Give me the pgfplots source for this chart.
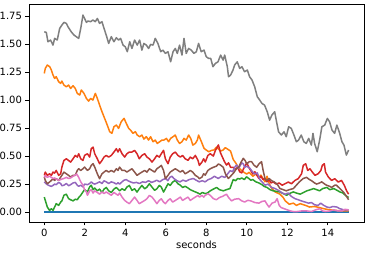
\documentclass[border=0pt]{standalone}
\usepackage{fontspec}
\setmainfont{DejaVu Sans}
\usepackage{pgfplots}
\pgfplotsset{compat=1.18}
\definecolor{c0}{HTML}{1F77B4}
\definecolor{c1}{HTML}{FF7F0E}
\definecolor{c2}{HTML}{2CA02C}
\definecolor{c3}{HTML}{D62728}
\definecolor{c4}{HTML}{9467BD}
\definecolor{c5}{HTML}{8C564B}
\definecolor{c6}{HTML}{E377C2}
\definecolor{c7}{HTML}{7F7F7F}
\begin{document}
\begin{tikzpicture}
\path[use as bounding box] (-29pt,-34pt) rectangle (339pt,222pt);
\begin{axis}[
  at={(0,0)}, anchor=south west,
  scale only axis, width=335pt, height=218pt,
  xmin=-0.755, xmax=15.79, ymin=-0.0885, ymax=1.858,
  xtick={0,2,...,14}, ytick={0,0.25,0.5,0.75,1,1.25,1.5,1.75},
  yticklabel style={/pgf/number format/.cd, fixed, fixed zerofill, precision=2},
  /pgf/number format/assume math mode=true,
  tick align=outside, tick pos=left, major tick length=3.5pt,
  every tick/.style={black, line width=0.8pt},
  axis line style={line width=0.8pt},
  tick label style={font=\fontsize{10}{12}\selectfont},
  label style={font=\fontsize{10}{12}\selectfont},
  xlabel={seconds},
  xlabel style={yshift=3pt},
  every axis plot/.append style={line width=1.5pt, line join=round},
]
\addplot[c0] coordinates {(0,0) (15.03,0)};
\addplot[c1] coordinates {
(0,1.238) (0.05,1.283) (0.15,1.313) (0.27,1.298) (0.35,1.268) (0.43,1.224) (0.51,1.194) (0.59,1.209) (0.71,1.164) (0.81,1.149) (0.87,1.170) (0.97,1.134) (1.09,1.119) (1.20,1.134) (1.30,1.104) (1.42,1.128) (1.53,1.104) (1.63,1.060) (1.75,1.045) (1.83,1.090) (1.96,1.060) (2.08,1.015) (2.19,0.991) (2.29,1.015) (2.40,1.000) (2.52,1.060) (2.62,1.015) (2.73,0.956) (2.85,0.896) (2.98,0.837) (3.11,0.777) (3.23,0.718) (3.34,0.703) (3.44,0.762) (3.56,0.777) (3.67,0.747) (3.80,0.807) (3.94,0.837) (4.05,0.792) (4.17,0.747) (4.26,0.732) (4.38,0.703) (4.50,0.718) (4.59,0.688) (4.71,0.673) (4.82,0.688) (4.92,0.652) (5.04,0.673) (5.15,0.643) (5.25,0.673) (5.37,0.628) (5.48,0.643) (5.58,0.613) (5.70,0.628) (5.81,0.643) (5.91,0.643) (6.03,0.658) (6.14,0.628) (6.24,0.658) (6.36,0.673) (6.47,0.688) (6.57,0.643) (6.68,0.613) (6.80,0.628) (6.90,0.658) (7.01,0.643) (7.13,0.688) (7.23,0.658) (7.34,0.598) (7.46,0.613) (7.56,0.643) (7.62,0.688) (7.76,0.628) (7.89,0.569) (8.00,0.554) (8.12,0.539) (8.25,0.550) (8.38,0.555) (8.51,0.580) (8.62,0.560) (8.71,0.545) (8.83,0.554) (8.94,0.575) (9.07,0.560) (9.20,0.545) (9.33,0.470) (9.45,0.440) (9.58,0.400) (9.75,0.370) (9.90,0.350) (10.00,0.340) (10.12,0.355) (10.30,0.320) (10.45,0.340) (10.60,0.310) (10.70,0.330) (10.90,0.270) (11.00,0.320) (11.10,0.260) (11.20,0.220) (11.40,0.180) (11.64,0.160) (11.80,0.130) (11.90,0.100) (12.10,0.070) (12.30,0.080) (12.45,0.060) (12.64,0.075) (12.90,0.060) (13.10,0.045) (13.35,0.050) (13.60,0.040) (13.80,0.030) (14.10,0.020) (14.40,0.015) (14.70,0.010) (15.03,0.010)};
\addplot[c2] coordinates {
(0,0.134) (0.05,0.104) (0.15,0.045) (0.26,0.015) (0.35,0.030) (0.43,0.015) (0.51,0.045) (0.59,0.075) (0.71,0.060) (0.81,0.089) (0.87,0.100) (0.97,0.150) (1.09,0.160) (1.20,0.120) (1.30,0.110) (1.42,0.100) (1.53,0.115) (1.63,0.110) (1.70,0.130) (1.80,0.150) (1.91,0.180) (1.99,0.200) (2.13,0.180) (2.24,0.225) (2.32,0.240) (2.41,0.200) (2.49,0.215) (2.62,0.190) (2.73,0.205) (2.85,0.175) (2.95,0.205) (3.06,0.220) (3.18,0.190) (3.31,0.175) (3.44,0.205) (3.56,0.220) (3.64,0.205) (3.72,0.190) (3.84,0.208) (3.97,0.194) (4.08,0.223) (4.20,0.238) (4.33,0.194) (4.46,0.208) (4.58,0.179) (4.69,0.208) (4.82,0.238) (4.96,0.208) (5.07,0.223) (5.19,0.253) (5.32,0.223) (5.45,0.194) (5.56,0.208) (5.68,0.238) (5.78,0.223) (5.89,0.179) (5.98,0.208) (6.11,0.253) (6.22,0.238) (6.34,0.268) (6.47,0.283) (6.60,0.253) (6.72,0.240) (6.83,0.220) (6.96,0.230) (7.10,0.215) (7.21,0.200) (7.33,0.190) (7.46,0.180) (7.59,0.170) (7.69,0.160) (7.80,0.175) (7.95,0.165) (8.05,0.170) (8.20,0.190) (8.35,0.205) (8.51,0.220) (8.65,0.200) (8.84,0.190) (9.00,0.200) (9.17,0.210) (9.25,0.250) (9.33,0.290) (9.45,0.280) (9.55,0.300) (9.66,0.295) (9.75,0.305) (9.88,0.290) (9.99,0.315) (10.10,0.300) (10.20,0.285) (10.30,0.290) (10.45,0.270) (10.60,0.260) (10.75,0.245) (10.85,0.230) (11.00,0.220) (11.15,0.200) (11.30,0.190) (11.45,0.185) (11.64,0.180) (11.80,0.165) (11.97,0.150) (12.10,0.165) (12.30,0.180) (12.45,0.170) (12.64,0.160) (12.80,0.175) (12.97,0.190) (13.15,0.200) (13.30,0.210) (13.45,0.200) (13.60,0.190) (13.75,0.210) (13.96,0.220) (14.10,0.200) (14.30,0.210) (14.45,0.195) (14.60,0.180) (14.75,0.170) (14.90,0.145) (15.03,0.130)};
\addplot[c3] coordinates {
(0,0.328) (0.05,0.357) (0.15,0.328) (0.26,0.342) (0.35,0.328) (0.43,0.357) (0.51,0.348) (0.59,0.372) (0.71,0.328) (0.81,0.342) (0.87,0.402) (0.97,0.461) (1.09,0.476) (1.20,0.461) (1.30,0.446) (1.42,0.476) (1.53,0.506) (1.63,0.491) (1.70,0.521) (1.80,0.476) (1.91,0.461) (1.99,0.506) (2.13,0.521) (2.24,0.491) (2.32,0.566) (2.41,0.580) (2.49,0.521) (2.62,0.476) (2.73,0.432) (2.85,0.461) (2.95,0.491) (3.06,0.506) (3.18,0.491) (3.31,0.506) (3.44,0.536) (3.56,0.566) (3.64,0.536) (3.72,0.566) (3.84,0.521) (3.97,0.491) (4.08,0.521) (4.20,0.536) (4.33,0.536) (4.46,0.551) (4.58,0.521) (4.69,0.476) (4.82,0.506) (4.96,0.521) (5.07,0.491) (5.19,0.476) (5.32,0.447) (5.45,0.476) (5.56,0.506) (5.68,0.491) (5.78,0.521) (5.89,0.551) (5.98,0.476) (6.11,0.432) (6.22,0.491) (6.34,0.521) (6.47,0.536) (6.60,0.506) (6.72,0.491) (6.83,0.506) (6.96,0.476) (7.10,0.462) (7.21,0.491) (7.33,0.476) (7.46,0.506) (7.59,0.462) (7.66,0.417) (7.79,0.447) (7.87,0.476) (7.95,0.447) (8.08,0.506) (8.20,0.521) (8.35,0.500) (8.45,0.550) (8.60,0.600) (8.70,0.530) (8.80,0.490) (8.90,0.450) (9.00,0.420) (9.10,0.440) (9.20,0.400) (9.33,0.400) (9.45,0.380) (9.55,0.400) (9.65,0.360) (9.75,0.350) (9.85,0.390) (10.00,0.440) (10.10,0.400) (10.20,0.370) (10.30,0.340) (10.40,0.360) (10.50,0.330) (10.60,0.300) (10.70,0.320) (10.80,0.290) (10.90,0.300) (11.00,0.270) (11.10,0.290) (11.20,0.260) (11.30,0.270) (11.45,0.250) (11.60,0.260) (11.75,0.240) (11.89,0.253) (12.05,0.268) (12.21,0.253) (12.38,0.283) (12.54,0.298) (12.71,0.343) (12.79,0.417) (12.91,0.432) (13.01,0.372) (13.12,0.387) (13.24,0.357) (13.37,0.328) (13.53,0.343) (13.66,0.372) (13.73,0.417) (13.83,0.432) (13.89,0.357) (14.03,0.313) (14.19,0.283) (14.35,0.298) (14.52,0.268) (14.68,0.283) (14.82,0.238) (14.93,0.190) (15.03,0.160)};
\addplot[c4] coordinates {
(0,0.270) (0.05,0.260) (0.15,0.245) (0.26,0.235) (0.35,0.230) (0.43,0.238) (0.51,0.250) (0.59,0.245) (0.71,0.265) (0.81,0.255) (0.87,0.235) (0.97,0.240) (1.09,0.255) (1.20,0.235) (1.30,0.245) (1.42,0.260) (1.53,0.265) (1.63,0.240) (1.70,0.230) (1.80,0.240) (1.91,0.225) (1.99,0.250) (2.13,0.245) (2.24,0.255) (2.32,0.270) (2.41,0.255) (2.49,0.250) (2.62,0.260) (2.73,0.270) (2.85,0.255) (2.95,0.280) (3.06,0.270) (3.18,0.255) (3.31,0.270) (3.44,0.262) (3.56,0.250) (3.64,0.262) (3.72,0.250) (3.84,0.270) (3.94,0.285) (4.05,0.290) (4.13,0.280) (4.25,0.270) (4.40,0.260) (4.55,0.265) (4.70,0.255) (4.85,0.270) (5.00,0.265) (5.15,0.280) (5.30,0.265) (5.45,0.275) (5.55,0.285) (5.70,0.270) (5.85,0.290) (6.00,0.300) (6.10,0.280) (6.20,0.310) (6.30,0.320) (6.40,0.300) (6.55,0.280) (6.70,0.270) (6.85,0.285) (7.00,0.275) (7.15,0.290) (7.36,0.300) (7.50,0.285) (7.65,0.270) (7.80,0.280) (7.94,0.270) (8.10,0.290) (8.25,0.300) (8.40,0.320) (8.59,0.300) (8.76,0.320) (8.92,0.310) (9.05,0.340) (9.18,0.370) (9.30,0.360) (9.40,0.400) (9.50,0.420) (9.60,0.390) (9.75,0.440) (9.83,0.430) (9.90,0.400) (10.00,0.410) (10.16,0.390) (10.28,0.360) (10.40,0.340) (10.52,0.350) (10.65,0.290) (10.80,0.260) (10.90,0.240) (11.05,0.250) (11.23,0.220) (11.40,0.210) (11.60,0.190) (11.75,0.170) (11.90,0.160) (12.05,0.170) (12.20,0.140) (12.38,0.120) (12.54,0.110) (12.70,0.100) (12.87,0.090) (13.05,0.080) (13.20,0.085) (13.35,0.065) (13.53,0.060) (13.65,0.080) (13.80,0.060) (13.96,0.045) (14.10,0.040) (14.25,0.050) (14.45,0.045) (14.60,0.030) (14.80,0.020) (15.03,0.020)};
\addplot[c5] coordinates {
(0,0.313) (0.05,0.283) (0.15,0.253) (0.26,0.268) (0.35,0.283) (0.43,0.298) (0.51,0.283) (0.59,0.298) (0.71,0.283) (0.81,0.313) (0.87,0.328) (0.97,0.357) (1.09,0.342) (1.20,0.328) (1.30,0.313) (1.42,0.328) (1.53,0.328) (1.63,0.372) (1.70,0.387) (1.80,0.372) (1.91,0.387) (1.99,0.402) (2.13,0.372) (2.24,0.387) (2.32,0.417) (2.41,0.432) (2.49,0.402) (2.62,0.342) (2.73,0.298) (2.85,0.342) (2.95,0.357) (3.06,0.372) (3.18,0.357) (3.31,0.372) (3.44,0.357) (3.56,0.387) (3.64,0.372) (3.72,0.402) (3.84,0.372) (3.97,0.372) (4.08,0.357) (4.20,0.372) (4.33,0.387) (4.46,0.357) (4.58,0.328) (4.69,0.342) (4.82,0.357) (4.96,0.372) (5.07,0.357) (5.19,0.387) (5.32,0.372) (5.45,0.357) (5.56,0.387) (5.68,0.402) (5.78,0.417) (5.89,0.372) (5.98,0.298) (6.11,0.328) (6.22,0.357) (6.34,0.372) (6.47,0.387) (6.60,0.372) (6.72,0.357) (6.83,0.372) (6.96,0.342) (7.10,0.357) (7.21,0.372) (7.33,0.357) (7.46,0.328) (7.59,0.313) (7.66,0.298) (7.79,0.313) (7.87,0.342) (7.95,0.330) (8.08,0.372) (8.20,0.387) (8.35,0.400) (8.50,0.410) (8.60,0.430) (8.70,0.420) (8.84,0.400) (8.95,0.340) (9.09,0.300) (9.20,0.320) (9.35,0.350) (9.50,0.390) (9.60,0.400) (9.70,0.440) (9.83,0.480) (9.92,0.460) (10.00,0.430) (10.12,0.450) (10.24,0.450) (10.35,0.420) (10.49,0.400) (10.60,0.430) (10.73,0.450) (10.81,0.370) (10.90,0.300) (10.98,0.280) (11.10,0.300) (11.23,0.280) (11.35,0.270) (11.50,0.250) (11.64,0.210) (11.80,0.200) (11.95,0.190) (12.10,0.200) (12.30,0.210) (12.45,0.240) (12.60,0.270) (12.79,0.300) (12.95,0.310) (13.10,0.290) (13.20,0.280) (13.35,0.260) (13.45,0.250) (13.60,0.260) (13.70,0.270) (13.85,0.250) (13.94,0.240) (14.10,0.230) (14.19,0.220) (14.35,0.240) (14.43,0.240) (14.60,0.210) (14.77,0.180) (14.93,0.140) (15.03,0.110)};
\addplot[c6] coordinates {
(0,0.310) (0.05,0.325) (0.15,0.310) (0.26,0.320) (0.35,0.310) (0.43,0.300) (0.51,0.305) (0.59,0.295) (0.71,0.285) (0.81,0.290) (0.87,0.295) (0.97,0.300) (1.09,0.310) (1.20,0.300) (1.30,0.305) (1.42,0.320) (1.53,0.330) (1.60,0.340) (1.70,0.310) (1.80,0.270) (1.91,0.240) (1.99,0.200) (2.08,0.180) (2.13,0.150) (2.24,0.190) (2.32,0.200) (2.41,0.170) (2.49,0.190) (2.62,0.175) (2.73,0.160) (2.85,0.180) (2.95,0.165) (3.06,0.180) (3.18,0.165) (3.31,0.150) (3.44,0.175) (3.56,0.160) (3.64,0.150) (3.72,0.170) (3.84,0.134) (3.97,0.104) (4.08,0.089) (4.20,0.075) (4.33,0.104) (4.46,0.134) (4.58,0.104) (4.69,0.075) (4.82,0.089) (4.96,0.104) (5.07,0.119) (5.19,0.149) (5.32,0.134) (5.45,0.104) (5.56,0.075) (5.68,0.104) (5.78,0.119) (5.89,0.089) (5.98,0.075) (6.11,0.104) (6.22,0.119) (6.34,0.089) (6.47,0.104) (6.60,0.119) (6.72,0.134) (6.83,0.104) (6.96,0.119) (7.10,0.134) (7.21,0.104) (7.33,0.119) (7.46,0.134) (7.59,0.149) (7.66,0.134) (7.79,0.149) (7.87,0.134) (7.95,0.149) (8.08,0.164) (8.20,0.149) (8.35,0.120) (8.50,0.110) (8.65,0.130) (8.80,0.140) (9.00,0.160) (9.10,0.130) (9.25,0.100) (9.40,0.115) (9.60,0.120) (9.75,0.100) (9.90,0.090) (10.05,0.105) (10.20,0.100) (10.40,0.085) (10.60,0.080) (10.75,0.095) (10.90,0.100) (11.00,0.070) (11.10,0.045) (11.25,0.080) (11.40,0.090) (11.50,0.120) (11.60,0.060) (11.70,0.040) (11.85,0.030) (12.00,0.020) (12.15,0.010) (12.30,0.005) (12.50,0.005) (12.70,0.010) (12.97,0.010) (13.20,0.005) (13.40,0.020) (13.60,0.030) (13.75,0.010) (13.90,0.005) (14.10,0.010) (14.30,0.020) (14.50,0.010) (14.70,0.010) (14.85,0.025) (15.03,0.020)};
\addplot[c7] coordinates {
(0,1.610) (0.10,1.604) (0.18,1.521) (0.31,1.536) (0.43,1.491) (0.51,1.551) (0.64,1.536) (0.76,1.640) (0.87,1.670) (0.97,1.694) (1.09,1.685) (1.17,1.655) (1.33,1.610) (1.47,1.580) (1.58,1.566) (1.70,1.551) (1.80,1.640) (1.91,1.759) (1.99,1.729) (2.08,1.694) (2.16,1.706) (2.29,1.700) (2.40,1.715) (2.52,1.700) (2.62,1.729) (2.73,1.685) (2.85,1.700) (2.95,1.640) (3.06,1.580) (3.18,1.506) (3.31,1.566) (3.44,1.521) (3.56,1.557) (3.67,1.536) (3.77,1.551) (3.89,1.491) (4.00,1.476) (4.10,1.432) (4.22,1.521) (4.33,1.461) (4.46,1.536) (4.59,1.491) (4.71,1.536) (4.82,1.446) (4.92,1.506) (5.04,1.491) (5.15,1.461) (5.25,1.497) (5.37,1.491) (5.48,1.551) (5.61,1.506) (5.75,1.432) (5.86,1.446) (5.98,1.417) (6.11,1.432) (6.24,1.342) (6.36,1.432) (6.47,1.461) (6.57,1.417) (6.68,1.491) (6.80,1.402) (6.90,1.551) (7.01,1.417) (7.13,1.461) (7.26,1.446) (7.39,1.417) (7.51,1.432) (7.62,1.506) (7.75,1.432) (7.89,1.446) (8.00,1.387) (8.12,1.372) (8.22,1.372) (8.33,1.298) (8.45,1.327) (8.58,1.342) (8.71,1.402) (8.83,1.357) (8.91,1.402) (9.04,1.298) (9.10,1.208) (9.20,1.223) (9.32,1.268) (9.40,1.313) (9.53,1.342) (9.65,1.283) (9.76,1.298) (9.89,1.253) (10.03,1.268) (10.14,1.208) (10.26,1.179) (10.39,1.119) (10.52,1.030) (10.64,1.000) (10.75,0.970) (10.88,0.955) (11.01,0.896) (11.13,0.821) (11.24,0.866) (11.38,0.896) (11.47,0.807) (11.57,0.717) (11.71,0.688) (11.84,0.717) (11.95,0.673) (12.07,0.762) (12.20,0.747) (12.33,0.688) (12.45,0.628) (12.56,0.643) (12.69,0.688) (12.82,0.628) (12.94,0.613) (13.06,0.658) (13.19,0.598) (13.27,0.703) (13.35,0.613) (13.48,0.539) (13.60,0.643) (13.71,0.762) (13.85,0.777) (13.98,0.836) (14.09,0.807) (14.21,0.732) (14.34,0.703) (14.45,0.777) (14.59,0.703) (14.70,0.628) (14.80,0.598) (14.92,0.509) (15.03,0.554)};
\end{axis}
\end{tikzpicture}
\end{document}
